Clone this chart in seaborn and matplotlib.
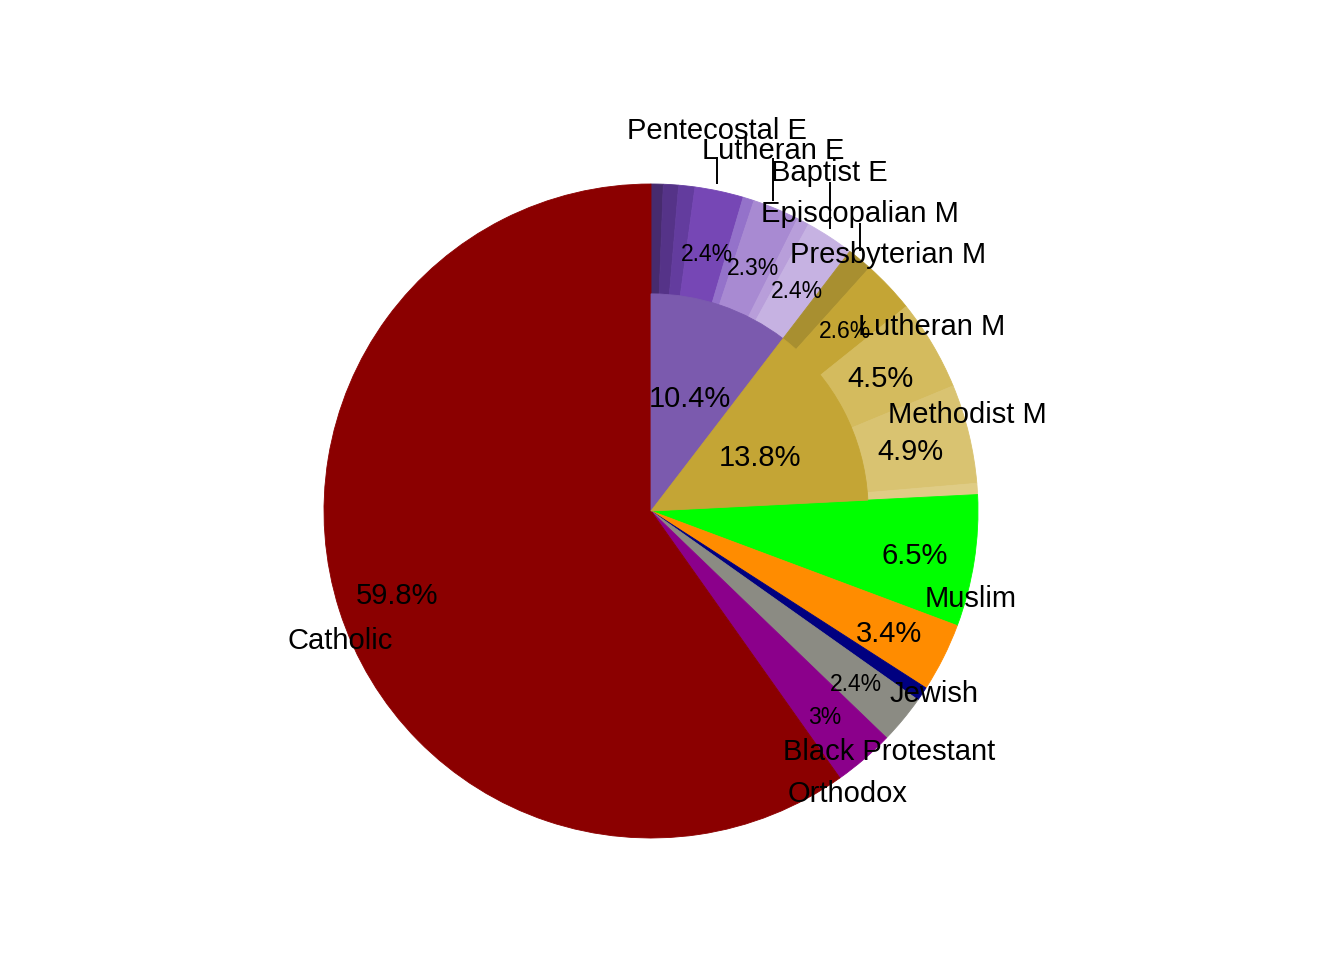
import matplotlib
matplotlib.use("Agg")
import matplotlib.pyplot as plt
import numpy as np
import seaborn as sns

# Top-level traditions, clockwise from 12 o'clock (share in %)
groups = ["Evangelical", "Mainline", "Muslim", "Other", "Jewish",
          "Black Protestant", "Orthodox", "Catholic"]
group_share = [10.4, 13.8, 6.5, 3.4, 0.7, 2.4, 3.0, 59.8]
group_colors = ["#7B5AAE", "#C4A535", "#00FF00", "#FF8C00", "#000080",
                "#8B8B83", "#8B008B", "#8B0000"]

# Outer ring: denominations inside the evangelical and mainline traditions
evangelical_subs = ["", "", "", "Pentecostal E", "", "Lutheran E", "", "Baptist E"]
evangelical_share = [0.6, 0.75, 0.8, 2.4, 0.55, 2.3, 0.6, 2.4]
evangelical_colors = ["#472B6E", "#553388", "#633C9E", "#7647B5",
                      "#9472CA", "#A88AD2", "#B89EDA", "#C6B2E2"]

mainline_subs = ["Episcopalian M", "Presbyterian M", "Lutheran M", "Methodist M", ""]
mainline_share = [1.25, 2.6, 4.5, 4.9, 0.55]
mainline_colors = ["#A88F30", "#C4A535", "#D4BB5E", "#D9C371", "#DFCC85"]

# Name labels (offset from centre, in units of the pie radius)
LABEL_POS = {
    "Pentecostal E": (0.202, 1.174),
    "Lutheran E": (0.375, 1.113),
    "Baptist E": (0.544, 1.046),
    "Episcopalian M": (0.638, 0.920),
    "Presbyterian M": (0.725, 0.795),
    "Lutheran M": (0.858, 0.575),
    "Methodist M": (0.968, 0.306),
    "Muslim": (0.977, -0.257),
    "Jewish": (0.864, -0.547),
    "Black Protestant": (0.728, -0.725),
    "Orthodox": (0.602, -0.853),
    "Catholic": (-0.950, -0.385),
}
# vertical leader lines: (x, top y) in radius units, they stop at the rim
LEADERS = [(0.202, 1.083), (0.373, 1.080), (0.547, 1.006), (0.639, 0.881)]

PX_RADIUS = 327
CENTER_PX = (651, 511)
FIG_W, FIG_H = 1344, 960
INNER_RADIUS = 0.664
OUTER_PCT_DIST = 0.815
INNER_PCT_DIST = 0.375
FONT_NAME = 21
FONT_PCT_BIG = 21
FONT_PCT_SMALL = 16.5
TEXT_DY = -4 / PX_RADIUS  # va="center" sits a bit high compared to cap centre


def _pct_text(v: float) -> str:
	return f"{v:g}%"


def _draw_pct(ax, wedge, value, dist):
	if value < 2.0:
		return
	ang = np.deg2rad((wedge.theta1 + wedge.theta2) / 2)
	r = wedge.r * dist
	size = FONT_PCT_BIG if value >= 3.2 else FONT_PCT_SMALL
	ax.text(r * np.cos(ang), r * np.sin(ang) + TEXT_DY, _pct_text(value),
	        ha="center", va="center", fontsize=size, color="black")


sns.set_theme(style="white")
plt.rcParams["font.family"] = ["Liberation Sans", "DejaVu Sans"]

fig = plt.figure(figsize=(FIG_W / 100, FIG_H / 100), dpi=100)
ax = fig.add_axes([0, 0, 1, 1])

outer_share = evangelical_share + mainline_share + group_share[2:]
outer_colors = evangelical_colors + mainline_colors + group_colors[2:]
outer_names = evangelical_subs + mainline_subs + groups[2:]

outer_wedges, _ = ax.pie(
	outer_share,
	colors=outer_colors,
	startangle=90,
	counterclock=False,
	radius=1.0,
	normalize=True,
	wedgeprops=dict(linewidth=0.6),
)
for w, c in zip(outer_wedges, outer_colors):
	w.set_edgecolor(c)

inner_wedges, _ = ax.pie(
	group_share,
	colors=group_colors,
	startangle=90,
	counterclock=False,
	radius=INNER_RADIUS,
	normalize=True,
	wedgeprops=dict(linewidth=0.6),
)
for w, c, g in zip(inner_wedges, group_colors, groups):
	w.set_edgecolor(c)
	if g not in ("Evangelical", "Mainline"):
		w.set_visible(False)

# percentage labels
for w, v in zip(outer_wedges, outer_share):
	_draw_pct(ax, w, v, OUTER_PCT_DIST)
for w, v, g in zip(inner_wedges, group_share, groups):
	if g in ("Evangelical", "Mainline"):
		_draw_pct(ax, w, v, INNER_PCT_DIST / INNER_RADIUS)

# name labels
for name in outer_names:
	if name in LABEL_POS:
		x, y = LABEL_POS[name]
		ax.text(x, y + TEXT_DY, name, ha="center", va="center",
		        fontsize=FONT_NAME, color="black")

for x, y_top in LEADERS:
	y_bot = np.sqrt(1.02 ** 2 - x ** 2)
	ax.plot([x, x], [y_top, y_bot], color="black", linewidth=1.4, solid_capstyle="butt")

cx, cy = CENTER_PX
ax.set_xlim(-cx / PX_RADIUS, (FIG_W - cx) / PX_RADIUS)
ax.set_ylim(-(FIG_H - cy) / PX_RADIUS, cy / PX_RADIUS)
ax.set_aspect("auto")
ax.axis("off")

fig.savefig("out.png", dpi=100, facecolor="white")
